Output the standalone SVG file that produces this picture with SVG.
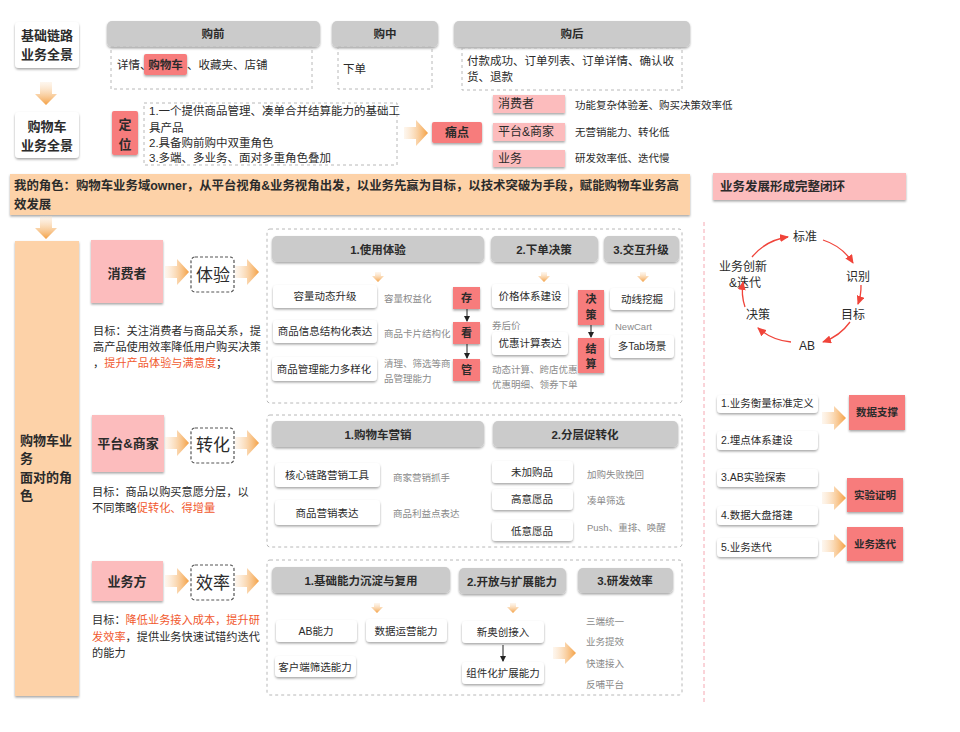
<svg xmlns="http://www.w3.org/2000/svg" width="960" height="732" viewBox="0 0 960 732">
<defs>
<style>
text{font-family:'Liberation Sans','Noto Sans CJK SC',sans-serif;fill:#2b2b2b}
.b{font-weight:bold}
.c{text-anchor:middle}
.hd{fill:#cbcbcb;filter:url(#sh)}
.wb{fill:#fff;filter:url(#sh)}
.red{fill:#f77c7c;filter:url(#sh)}
.pink{fill:#fcbcbd;filter:url(#sh)}
.org{fill:#fdd2a8;filter:url(#sh)}
.dash{fill:none;stroke:#b8b8b8;stroke-dasharray:3 3;stroke-width:1}
.dk{fill:#fff;stroke:#555;stroke-dasharray:3 2;stroke-width:1.2}
.g{fill:#8a8a8a;font-size:9.5px}
.hl{fill:#f1592e}
.f10{font-size:10.5px}
.f11{font-size:11.5px}
.gl{font-size:11.2px}
.f13{font-size:13px}
.big{font-size:17px}
.ar{fill:url(#gR)}
.ad{fill:url(#gD)}
.blk{stroke:#222;stroke-width:1;fill:none;marker-end:url(#mk)}
.rl{stroke:#f0443a;stroke-width:1.3;fill:none;marker-end:url(#mr)}
</style>
<filter id="sh" x="-20%" y="-20%" width="140%" height="170%"><feDropShadow dx="0" dy="1.5" stdDeviation="1.2" flood-color="#000" flood-opacity="0.35"/></filter>
<linearGradient id="gR" x1="0" y1="0" x2="1" y2="0"><stop offset="0" stop-color="#fbe2c6" stop-opacity="0.3"/><stop offset="1" stop-color="#f4a043"/></linearGradient>
<linearGradient id="gD" x1="0" y1="0" x2="0" y2="1"><stop offset="0" stop-color="#fbe2c6" stop-opacity="0.3"/><stop offset="1" stop-color="#f4a043"/></linearGradient>
<marker id="mk" markerUnits="userSpaceOnUse" markerWidth="6" markerHeight="6" refX="5" refY="3" orient="auto"><path d="M0,0 L6,3 L0,6 Z" fill="#222"/></marker>
<marker id="mr" markerUnits="userSpaceOnUse" markerWidth="9" markerHeight="8" refX="8" refY="4" orient="auto"><path d="M0,0 L9,4 L0,8 Z" fill="#f0443a"/></marker>
</defs>
<rect width="960" height="732" fill="#fff"/>

<g id="n-base"><rect class="wb" x="15" y="22" width="64" height="46" rx="4"/><text class="b f13 c" x="47" y="40">基础链路</text><text class="b f13 c" x="47" y="59">业务全景</text></g>
<g id="n-cart"><rect class="wb" x="15" y="112" width="64" height="46" rx="4"/><text class="b f13 c" x="47" y="131">购物车</text><text class="b f13 c" x="47" y="150">业务全景</text></g>

<g id="n-pre"><rect class="hd" x="107" y="21" width="213" height="26" rx="5"/><text class="b f11 c" x="213" y="38">购前</text>
<rect class="dash" x="111" y="47" width="201" height="42"/>
<rect class="red" x="144" y="54" width="43" height="21" rx="2"/>
<text class="f11" x="117" y="69">详情、</text><text class="f11 b c" x="165.5" y="69">购物车</text><text class="f11" x="187" y="69">、收藏夹、店铺</text></g>
<g id="n-mid"><rect class="hd" x="332" y="21" width="106" height="26" rx="5"/><text class="b f11 c" x="385" y="38">购中</text>
<rect class="dash" x="338" y="47" width="94" height="42"/><text class="f11" x="343" y="73">下单</text></g>
<g id="n-post"><rect class="hd" x="454" y="21" width="236" height="26" rx="5"/><text class="b f11 c" x="572" y="38">购后</text>
<rect class="dash" x="462" y="48" width="220" height="42"/><text class="f11" x="467" y="65">付款成功、订单列表、订单详情、确认收</text><text class="f11" x="467" y="81">货、退款</text></g>

<g id="n-pos"><rect class="red" x="112" y="111" width="26" height="44" rx="2"/><text class="b f13 c" x="125" y="129">定</text><text class="b f13 c" x="125" y="149">位</text>
<rect class="dash" x="144" y="103" width="253" height="62"/>
<text class="f11" x="149" y="115">1.一个提供商品管理、凑单合并结算能力的基础工</text>
<text class="f11" x="149" y="132">具产品</text>
<text class="f11" x="149" y="147">2.具备购前购中双重角色</text>
<text class="f11" x="149" y="162">3.多端、多业务、面对多重角色叠加</text></g>

<g id="n-pain"><rect class="red" x="432" y="122" width="50" height="21" rx="2"/><text class="b c" font-size="12" x="457" y="137">痛点</text></g>
<g id="n-pain-list">
<rect class="pink" x="493" y="95" width="72" height="18"/><text font-size="12" x="498" y="108">消费者</text><text font-size="10.5" x="575" y="109">功能复杂体验差、购买决策效率低</text>
<rect class="pink" x="493" y="123" width="72" height="18"/><text font-size="12" x="498" y="136">平台&amp;商家</text><text font-size="10.5" x="575" y="136">无营销能力、转化低</text>
<rect class="pink" x="493" y="150" width="72" height="17"/><text font-size="12" x="498" y="163">业务</text><text font-size="10.5" x="575" y="162">研发效率低、迭代慢</text></g>

<g id="n-role"><rect class="org" x="10" y="174" width="680" height="41"/>
<text class="b" font-size="12.4" x="14" y="190">我的角色：购物车业务域owner，从平台视角&amp;业务视角出发，以业务先赢为目标，以技术突破为手段，赋能购物车业务高</text>
<text class="b" font-size="12.4" x="14" y="209">效发展</text></g>
<g id="n-loop-title"><rect class="pink" x="713" y="173" width="193" height="27"/><text class="b" font-size="12.5" x="720" y="191">业务发展形成完整闭环</text></g>

<g id="n-left-col"><rect class="org" x="15" y="241" width="64" height="455"/>
<text class="b f13" x="20" y="445">购物车业</text><text class="b f13" x="20" y="463">务</text><text class="b f13" x="20" y="482">面对的角</text><text class="b f13" x="20" y="500">色</text></g>

<g id="n-consumer"><rect class="pink" x="91" y="240" width="72" height="63"/><text class="b f13 c" x="127" y="278">消费者</text></g>
<g id="n-exp"><rect class="dk" x="191" y="257" width="43" height="35" rx="4"/><text class="big c" x="213" y="281">体验</text></g>
<g id="n-consumer-goal"><text class="gl" x="93" y="335">目标：关注消费者与商品关系，提</text><text class="gl" x="93" y="351">高产品使用效率降低用户购买决策</text><text class="gl" x="93" y="367">，<tspan class="hl">提升产品体验与满意度</tspan>；</text></g>

<g id="n-c1"><rect class="dash" x="267" y="229" width="415" height="174" rx="3"/>
<rect class="hd" x="272" y="236" width="212" height="26" rx="5"/><text class="b f11 c" x="378" y="254">1.使用体验</text>
<rect class="hd" x="491" y="236" width="107" height="26" rx="5"/><text class="b f11 c" x="544" y="254">2.下单决策</text>
<rect class="hd" x="604" y="236" width="75" height="26" rx="5"/><text class="b f11 c" x="641" y="254">3.交互升级</text>
<rect class="wb" x="273" y="285" width="104" height="23" rx="4"/><text class="f10 c" x="325" y="300">容量动态升级</text>
<rect class="wb" x="273" y="320" width="104" height="23" rx="4"/><text class="f10 c" x="325" y="335">商品信息结构化表达</text>
<rect class="wb" x="272" y="357" width="105" height="24" rx="4"/><text class="f10 c" x="324" y="373">商品管理能力多样化</text>
<text class="g" x="384" y="302">容量权益化</text><text class="g" x="384" y="337">商品卡片结构化</text><text class="g" x="384" y="367">清理、筛选等商</text><text class="g" x="384" y="382">品管理能力</text>
<rect class="red" x="453" y="287" width="27" height="22"/><text class="b c" font-size="11" x="466.5" y="302">存</text>
<rect class="red" x="453" y="322" width="27" height="22"/><text class="b c" font-size="11" x="466.5" y="337">看</text>
<rect class="red" x="453" y="359" width="27" height="22"/><text class="b c" font-size="11" x="466.5" y="374">管</text>
<rect class="wb" x="492" y="284" width="76" height="24" rx="4"/><text class="f10 c" x="530" y="300">价格体系建设</text>
<text class="g" x="492" y="329">券后价</text>
<rect class="wb" x="492" y="332" width="76" height="23" rx="4"/><text class="f10 c" x="530" y="347">优惠计算表达</text>
<text class="g" x="492" y="373">动态计算、跨店优惠</text><text class="g" x="492" y="388">优惠明细、领券下单</text>
<rect class="red" x="578" y="290" width="26" height="35"/><text class="b c" font-size="11" x="591" y="303">决</text><text class="b c" font-size="11" x="591" y="319">策</text>
<rect class="red" x="578" y="338" width="26" height="35"/><text class="b c" font-size="11" x="591" y="353">结</text><text class="b c" font-size="11" x="591" y="368">算</text>
<rect class="wb" x="610" y="288" width="64" height="22" rx="4"/><text class="f10 c" x="642" y="303">动线挖掘</text>
<text class="g" x="615" y="330">NewCart</text>
<rect class="wb" x="610" y="335" width="64" height="23" rx="4"/><text class="f10 c" x="642" y="350">多Tab场景</text></g>

<g id="n-loop">
<text class="c" font-size="12" x="805" y="241">标准</text>
<text class="c" font-size="12" x="858" y="281">识别</text>
<text class="c" font-size="12" x="853" y="319">目标</text>
<text class="c" font-size="12" x="807" y="350">AB</text>
<text class="c" font-size="12" x="758" y="319">决策</text>
<text class="c" font-size="12" x="743" y="271">业务创新</text>
<text class="c" font-size="12" x="745" y="287">&amp;迭代</text></g>
<line x1="704" y1="222" x2="704" y2="705" stroke="#f5a8b2" stroke-dasharray="4 3" stroke-width="1"/>

<g id="n-list">
<rect class="wb" x="717" y="395" width="101" height="18" rx="4"/><text class="f10" x="721" y="407">1.业务衡量标准定义</text>
<rect class="wb" x="717" y="431" width="101" height="19" rx="4"/><text class="f10" x="721" y="444">2.埋点体系建设</text>
<rect class="wb" x="717" y="469" width="101" height="18" rx="4"/><text class="f10" x="721" y="481">3.AB实验探索</text>
<rect class="wb" x="717" y="506" width="101" height="19" rx="4"/><text class="f10" x="721" y="519">4.数据大盘搭建</text>
<rect class="wb" x="717" y="538" width="101" height="19" rx="4"/><text class="f10" x="721" y="551">5.业务迭代</text>
<rect class="red" x="849" y="395" width="56" height="35"/><text class="b c" font-size="10.5" x="877" y="416">数据支撑</text>
<rect class="red" x="847" y="478" width="56" height="34"/><text class="b c" font-size="10.5" x="875" y="499">实验证明</text>
<rect class="red" x="847" y="527" width="56" height="34"/><text class="b c" font-size="10.5" x="875" y="548">业务迭代</text></g>

<g id="n-platform"><rect class="pink" x="92" y="415" width="72" height="57"/><text class="b f13 c" x="128" y="448">平台&amp;商家</text></g>
<g id="n-conv"><rect class="dk" x="191" y="428" width="43" height="35" rx="4"/><text class="big c" x="213" y="451">转化</text></g>
<g id="n-platform-goal"><text class="gl" x="92" y="496">目标：商品以购买意愿分层，以</text><text class="gl" x="92" y="512">不同策略<tspan class="hl">促转化、得增量</tspan></text></g>

<g id="n-c2"><rect class="dash" x="267" y="415" width="415" height="132" rx="3"/>
<rect class="hd" x="272" y="421" width="212" height="26" rx="5"/><text class="b f11 c" x="378" y="439">1.购物车营销</text>
<rect class="hd" x="493" y="421" width="185" height="26" rx="5"/><text class="b f11 c" x="585" y="439">2.分层促转化</text>
<rect class="wb" x="275" y="463" width="105" height="24" rx="4"/><text class="f10 c" x="327" y="479">核心链路营销工具</text>
<rect class="wb" x="275" y="500" width="105" height="25" rx="4"/><text class="f10 c" x="327" y="517">商品营销表达</text>
<text class="g" x="393" y="481">商家营销抓手</text><text class="g" x="393" y="517">商品利益点表达</text>
<rect class="wb" x="492" y="461" width="81" height="22" rx="4"/><text class="f10 c" x="532" y="476">未加购品</text>
<rect class="wb" x="492" y="489" width="81" height="21" rx="4"/><text class="f10 c" x="532" y="503">高意愿品</text>
<rect class="wb" x="492" y="520" width="81" height="21" rx="4"/><text class="f10 c" x="532" y="535">低意愿品</text>
<text class="g" x="587" y="478">加购失败挽回</text><text class="g" x="587" y="504">凑单筛选</text><text class="g" x="587" y="531">Push、重排、唤醒</text></g>

<g id="n-biz"><rect class="pink" x="92" y="561" width="71" height="40"/><text class="b f13 c" x="127" y="586">业务方</text></g>
<g id="n-eff"><rect class="dk" x="191" y="565" width="43" height="35" rx="4"/><text class="big c" x="213" y="589">效率</text></g>
<g id="n-biz-goal"><text class="gl" x="92" y="624">目标：<tspan class="hl">降低业务接入成本，提升研</tspan></text><text class="gl" x="92" y="641"><tspan class="hl">发效率</tspan>，提供业务快速试错约迭代</text><text class="gl" x="92" y="657">的能力</text></g>

<g id="n-c3"><rect class="dash" x="267" y="560" width="415" height="135" rx="3"/>
<rect class="hd" x="272" y="567" width="178" height="26" rx="5"/><text class="b f11 c" x="361" y="585">1.基础能力沉淀与复用</text>
<rect class="hd" x="459" y="568" width="107" height="26" rx="5"/><text class="b f11 c" x="512" y="586">2.开放与扩展能力</text>
<rect class="hd" x="578" y="568" width="95" height="25" rx="5"/><text class="b f11 c" x="625" y="585">3.研发效率</text>
<rect class="wb" x="276" y="620" width="81" height="22" rx="4"/><text class="f10 c" x="316" y="635">AB能力</text>
<rect class="wb" x="366" y="619" width="81" height="23" rx="4"/><text class="f10 c" x="406" y="635">数据运营能力</text>
<rect class="wb" x="275" y="656" width="81" height="21" rx="4"/><text class="f10 c" x="315" y="671">客户端筛选能力</text>
<rect class="wb" x="462" y="621" width="82" height="22" rx="4"/><text class="f10 c" x="503" y="636">新奥创接入</text>
<rect class="wb" x="462" y="662" width="82" height="22" rx="4"/><text class="f10 c" x="503" y="677">组件化扩展能力</text>
<text class="g" x="586" y="625">三端统一</text><text class="g" x="586" y="645">业务提效</text><text class="g" x="586" y="667">快速接入</text><text class="g" x="586" y="688">反哺平台</text></g>

<g id="connectors">
<path class="ad" d="M40,82 V94 H35 L46,105 L57,94 H52 V82 Z"/>
<path class="ad" d="M40,216 V228 H35 L46,239 L57,228 H52 V216 Z"/>
<path class="ar" d="M404,127 H416 V120 L428,133 L416,146 V139 H404 Z"/>
<path class="ar" d="M165,266 H177 V259 L189,272 L177,285 V278 H165 Z"/>
<path class="ar" d="M235,266 H247 V259 L259,272 L247,285 V278 H235 Z"/>
<path class="ar" d="M165,437 H177 V430 L189,443 L177,456 V449 H165 Z"/>
<path class="ar" d="M235,437 H247 V430 L259,443 L247,456 V449 H235 Z"/>
<path class="ar" d="M165,575 H177 V568 L189,581 L177,594 V587 H165 Z"/>
<path class="ar" d="M235,575 H247 V568 L259,581 L247,594 V587 H235 Z"/>
<path class="ar" d="M822,412 H834 V406 L846,418 L834,430 V424 H822 Z"/>
<path class="ar" d="M822,492 H834 V486 L846,498 L834,510 V504 H822 Z"/>
<path class="ar" d="M822,540 H834 V534 L846,546 L834,558 V552 H822 Z"/>
<path class="ar" d="M553,647 H565 V642 L576,653 L565,664 V659 H553 Z"/>
<path class="ad" d="M375,272 V276 H372 L378,282 L384,276 H381 V272 Z"/>
<path class="ad" d="M541,272 V276 H538 L544,282 L550,276 H547 V272 Z"/>
<path class="ad" d="M640,272 V276 H637 L643,282 L649,276 H646 V272 Z"/>
<path class="ad" d="M374,603 V607 H371 L377,613 L383,607 H380 V603 Z"/>
<path class="ad" d="M510,603 V607 H507 L513,613 L519,607 H516 V603 Z"/>
<line class="blk" x1="467" y1="309" x2="467" y2="321"/>
<line class="blk" x1="467" y1="344" x2="467" y2="358"/>
<line class="blk" x1="591" y1="325" x2="591" y2="337"/>
<line class="blk" x1="503" y1="645" x2="503" y2="661" stroke-width="1.4"/>
<path class="rl" d="M823,240 A56,54 0 0 1 853,263"/>
<path class="rl" d="M861,285 A56,54 0 0 1 858,304"/>
<path class="rl" d="M850,322 A56,54 0 0 1 823,342"/>
<path class="rl" d="M791,342 A56,54 0 0 1 758,328"/>
<path class="rl" d="M745,307 A56,54 0 0 1 743,282"/>
<path class="rl" d="M752,257 A56,54 0 0 1 788,237"/>
</g>
</svg>
